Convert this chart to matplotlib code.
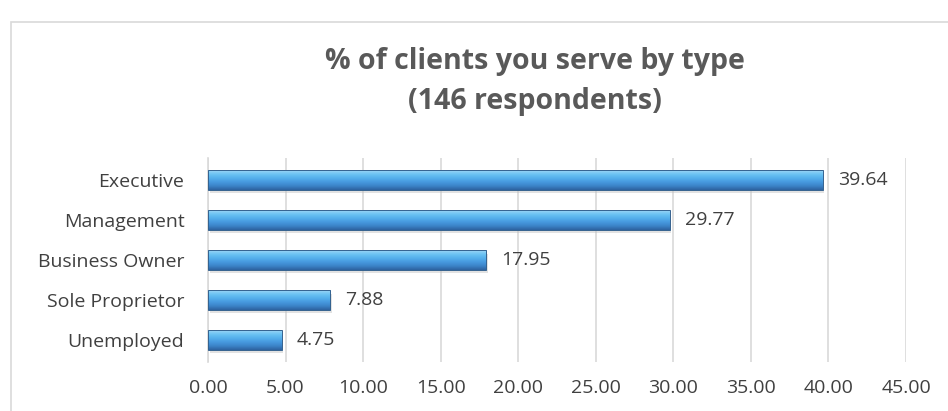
import numpy as np
import matplotlib.pyplot as plt
from matplotlib.colors import LinearSegmentedColormap
from matplotlib.patches import Rectangle

# data (top to bottom)
categories = ["Executive", "Management", "Business Owner", "Sole Proprietor", "Unemployed"]
values = [39.64, 29.77, 17.95, 7.88, 4.75]
x_ticks = [0, 5, 10, 15, 20, 25, 30, 35, 40, 45]

plt.rcParams['font.family'] = ['Open Sans', 'DejaVu Sans']

fig = plt.figure(figsize=(9.48, 4.11), dpi=100)
ax = fig.add_axes([208 / 948, 1 - 362 / 411, 698 / 948, 204 / 411])

# chart border (Excel-style frame)
fig.patches.append(Rectangle((11 / 948, -0.1), 1.2, 1 - 22 / 411 + 0.1,
                             transform=fig.transFigure, fill=False,
                             edgecolor="#d9d9d9", linewidth=1.2))

# bevel-ish gradient for the bars (top -> bottom)
cmap = LinearSegmentedColormap.from_list(
    "bevel", ["#9ed6f6", "#6cc3f3", "#55b0ec", "#4799df", "#3c84c8", "#2d62a0"])
grad = np.linspace(0, 1, 64).reshape(-1, 1)

bar_h = 0.48
ypos = np.arange(len(categories))
bars = ax.barh(ypos, values, height=bar_h, color="#4a9ad6",
               edgecolor="none", zorder=3)
for b in bars:
    x0, y0 = b.get_x(), b.get_y()
    w, h = b.get_width(), b.get_height()
    # soft shadow under the bar
    ax.add_patch(Rectangle((x0 + 0.1, y0 + 0.08), w, h, facecolor="#bfbfbf",
                           alpha=0.45, edgecolor="none", zorder=2.5))
    im = ax.imshow(grad, cmap=cmap, aspect="auto", origin="upper",
                   extent=[x0, x0 + w, y0 + h, y0], zorder=3.5)
    im.set_clip_path(b)
    ax.add_patch(Rectangle((x0, y0), w, h, fill=False,
                           edgecolor="#34628f", linewidth=0.7, zorder=4))

for y, v in zip(ypos, values):
    ax.text(v + 0.95, y, f"{v:.2f}", va="center", ha="left",
            fontsize=14, color="#404040")

ax.set_yticks(ypos)
ax.set_yticklabels(categories, fontsize=14, color="#404040")
ax.set_ylim(len(categories) - 0.5 + 0.05, -0.55)
ax.set_xlim(0, 45)
ax.set_xticks(x_ticks)
ax.set_xticklabels([f"{t:.2f}" for t in x_ticks], fontsize=14, color="#404040")
ax.tick_params(length=0)
ax.tick_params(axis="y", pad=17)
ax.tick_params(axis="x", pad=12)

ax.grid(axis="x", color="#d9d9d9", linewidth=1.2, zorder=0)
for s in ["top", "right", "bottom"]:
    ax.spines[s].set_visible(False)
ax.spines["left"].set_color("#d9d9d9")
ax.spines["left"].set_linewidth(1.2)

fig.text(535 / 948, 1 - 82 / 411, "% of clients you serve by type\n(146 respondents)",
         ha="center", va="center", fontsize=20.5, fontweight="bold",
         color="#595959", linespacing=1.5)

fig.savefig("out.png", dpi=100)
